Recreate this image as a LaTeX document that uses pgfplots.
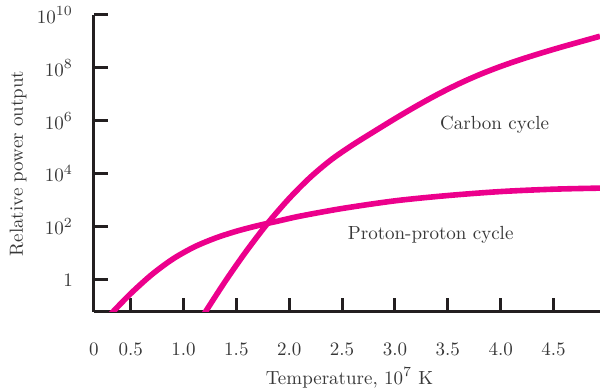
\documentclass[border=0pt]{standalone}
\usepackage{pgfplots}
\pgfplotsset{compat=1.18}
\definecolor{mag}{RGB}{236,0,140}
\definecolor{ink}{RGB}{35,31,32}
\definecolor{txt}{RGB}{55,55,55}

\begin{document}
\begin{tikzpicture}
\begin{axis}[
    scale only axis,
    width=253pt, height=148.5pt,
    xmin=0.153, xmax=4.94,
    ymode=log, ymin=0.0604, ymax=1e10,
    axis lines=left,
    axis line style={-, line width=1.5pt, ink},
    tick align=inside,
    major tick length=7pt,
    tick style={ink, line width=1.5pt},
    yminorticks=false,
    xtick={0.5,1,1.5,2,2.5,3,3.5,4,4.5},
    xticklabels={0.5,1.0,1.5,2.0,2.5,3.0,3.5,4.0,4.5},
    extra x ticks={0.153},
    extra x tick labels={0},
    extra x tick style={major tick length=0pt},
    ytick={1,1e2,1e4,1e6,1e8,1e10},
    yticklabels={1,10$^{2}$,10$^{4}$,10$^{6}$,10$^{8}$,10$^{10}$},
    tick label style={font=\fontsize{9.5}{11}\selectfont, text=txt},
    xticklabel style={yshift=-12pt},
    yticklabel style={xshift=-7pt},
    xlabel={Temperature, 10$^{7}$ K},
    ylabel={Relative power output},
    label style={font=\fontsize{9.5}{11}\selectfont, text=txt},
    xlabel style={at={(axis description cs:0.505,-0.222)}, anchor=center},
    ylabel style={at={(axis description cs:-0.150,0.5)}, anchor=center},
    clip mode=individual,
]
% proton-proton cycle
\addplot[mag, line width=2.8pt, smooth] coordinates {
  (0.30,0.0437) (0.336,0.0637) (0.5,0.2992) (0.7,1.570) (0.9,6.109)
  (1.1,17.22) (1.3,37.24) (1.5,67.76) (1.7,109.9) (1.9,166.3)
  (2.1,251.2) (2.5,489.8) (3.0,955) (3.5,1514) (4.0,2138)
  (4.5,2630) (4.94,2884)
};
% carbon cycle
\addplot[mag, line width=2.8pt, smooth] coordinates {
  (1.185,0.0437) (1.2,0.0552) (1.4,0.9376) (1.6,12.94) (1.8,141.9)
  (2.0,1180) (2.2,7447) (2.4,34830) (2.6,1.236e5) (2.8,3.908e5)
  (3.0,1.208e6) (3.2,3.565e6) (3.4,9.82e6) (3.6,2.466e7) (3.8,5.585e7)
  (4.0,1.140e8) (4.2,2.148e8) (4.4,3.819e8) (4.6,6.561e8) (4.94,1.574e9)
};
\node[font=\fontsize{9.5}{11}\selectfont, text=txt] at (axis cs:3.943,7.08e5) {Carbon cycle};
\node[font=\fontsize{9.5}{11}\selectfont, text=txt] at (axis cs:3.338,50.1) {Proton-proton cycle};
\end{axis}
\pgfresetboundingbox
\useasboundingbox (-47pt,-38.5pt) rectangle (253pt,156pt);
\end{tikzpicture}
\end{document}
